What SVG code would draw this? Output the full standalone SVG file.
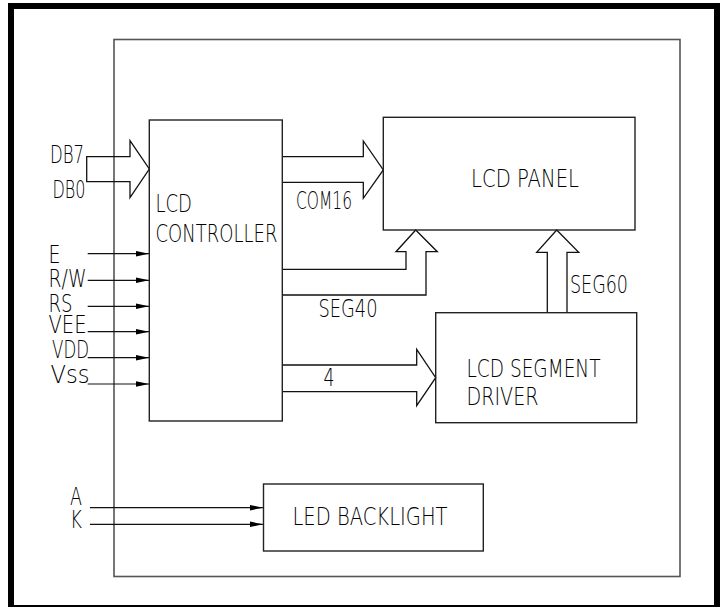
<svg xmlns="http://www.w3.org/2000/svg" width="728" height="607" viewBox="0 0 728 607">
<style>
.t{font-family:"DejaVu Sans","DejaVu Sans Mono",sans-serif;font-weight:200;font-size:24px;fill:#000;}
.box{fill:none;stroke:#222;stroke-width:1.4;}
.bus{fill:none;stroke:#111;stroke-width:1.3;stroke-linejoin:miter;}
.sig{fill:none;stroke:#111;stroke-width:1.2;marker-end:url(#ah);}
</style>
<defs>
<marker id="ah" viewBox="0 0 13 6" refX="13" refY="3" markerWidth="13" markerHeight="6" markerUnits="userSpaceOnUse" orient="auto">
<path d="M0,0.3 L13,3 L0,5.7 Z" fill="#000"/>
</marker>
</defs>
<rect width="728" height="607" fill="#fff"/>
<rect x="11" y="6" width="706" height="602" fill="none" stroke="#000" stroke-width="6"/>
<rect x="114" y="39.5" width="566" height="537" fill="none" stroke="#555" stroke-width="1.6"/>

<g id="connectors">
<path class="bus" d="M86.7,156.7 H130 V140.7 L149.3,169 L130,197.7 V181.7 H86.7 Z"/>
<path class="bus" d="M282.3,156.7 H363.3 V141 L383.3,170 L363.3,198.3 V182.3 H282.3"/>
<path class="bus" d="M282.3,269.3 H406 V251.7 H396 L415.7,230 L437.3,251.7 H426 V295 H282.3"/>
<path class="bus" d="M547.3,312.7 V252.3 H536.7 L556.7,230 L578.7,252.3 H567 V312.7"/>
<path class="bus" d="M282.3,365 H416.7 V349.3 L435.7,377.7 L416.7,405.7 V391.7 H282.3"/>
<path class="sig" d="M87.7,253.7 H149"/>
<path class="sig" d="M87.7,280.3 H149"/>
<path class="sig" d="M87.7,306.3 H149"/>
<path class="sig" d="M87.7,331.7 H149"/>
<path class="sig" d="M87.7,357.7 H149"/>
<path class="sig" d="M87.7,384 H149"/>
<path class="sig" d="M90,507.7 H263"/>
<path class="sig" d="M90,524.3 H263"/>
</g>

<g id="labels">
<text class="t" x="50" y="163.3" textLength="34" lengthAdjust="spacingAndGlyphs">DB7</text>
<text class="t" x="52.5" y="198" textLength="33" lengthAdjust="spacingAndGlyphs">DB0</text>
<text class="t" x="48.5" y="262.7" textLength="12" lengthAdjust="spacingAndGlyphs">E</text>
<text class="t" x="48.5" y="286.7" textLength="38" lengthAdjust="spacingAndGlyphs">R/W</text>
<text class="t" x="48.5" y="311.7" textLength="24" lengthAdjust="spacingAndGlyphs">RS</text>
<text class="t" x="48.5" y="333.3" textLength="38" lengthAdjust="spacingAndGlyphs">VEE</text>
<text class="t" x="52" y="358" textLength="37" lengthAdjust="spacingAndGlyphs">VDD</text>
<text class="t" x="50.5" y="383.3" textLength="39" lengthAdjust="spacingAndGlyphs">Vss</text>
<text class="t" x="296" y="209.3" textLength="56" lengthAdjust="spacingAndGlyphs">COM16</text>
<text class="t" x="318.5" y="317.3" textLength="59" lengthAdjust="spacingAndGlyphs">SEG40</text>
<text class="t" x="323.5" y="385.7" textLength="11" lengthAdjust="spacingAndGlyphs">4</text>
<text class="t" x="570" y="292.7" textLength="58" lengthAdjust="spacingAndGlyphs">SEG60</text>
<text class="t" x="70" y="505" textLength="12" lengthAdjust="spacingAndGlyphs">A</text>
<text class="t" x="70" y="528.3" textLength="12" lengthAdjust="spacingAndGlyphs">K</text>
</g>

<g id="lcd-controller">
<rect class="box" x="149.3" y="120" width="133" height="301"/>
<text class="t" x="155.5" y="211.7" textLength="36.5" lengthAdjust="spacingAndGlyphs">LCD</text>
<text class="t" x="155.5" y="241.7" textLength="122" lengthAdjust="spacingAndGlyphs">CONTROLLER</text>
</g>

<g id="lcd-panel">
<rect class="box" x="383.3" y="117.3" width="251.7" height="112.7"/>
<text class="t" x="471" y="186.7" textLength="108" lengthAdjust="spacingAndGlyphs">LCD PANEL</text>
</g>

<g id="lcd-segment-driver">
<rect class="box" x="435.7" y="312.7" width="201" height="110"/>
<text class="t" x="466.5" y="376.7" textLength="134" lengthAdjust="spacingAndGlyphs">LCD SEGMENT</text>
<text class="t" x="466.5" y="405" textLength="72" lengthAdjust="spacingAndGlyphs">DRIVER</text>
</g>

<g id="led-backlight">
<rect class="box" x="263.5" y="484" width="219.8" height="67"/>
<text class="t" x="292.5" y="525" textLength="155" lengthAdjust="spacingAndGlyphs">LED BACKLIGHT</text>
</g>
</svg>
